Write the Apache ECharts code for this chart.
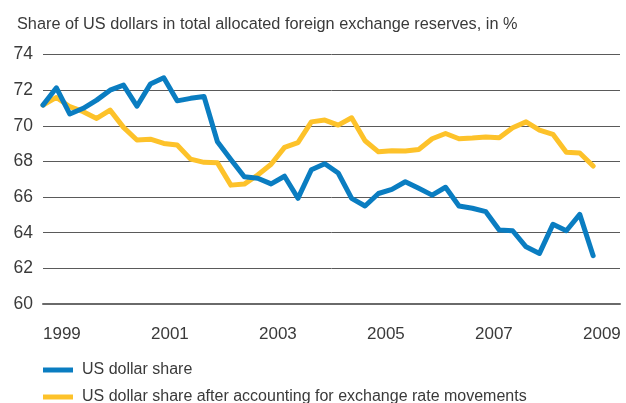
<!DOCTYPE html>
<html>
<head>
<meta charset="utf-8">
<script src="https://cdn.jsdelivr.net/npm/echarts@6/dist/echarts.min.js"></script>
<style>
html, body { margin: 0; padding: 0; background: #fff; }
#chart { width: 626px; height: 403px; }
</style>
</head>
<body>
<div id="chart"></div>
<script>
//---------------------------Data---------------------------
// quarters on the x axis (data runs 1999 Q1 .. 2009 Q2, axis goes a bit past)
let quarters = [];
for (let y = 1999; y <= 2009; y++) {
    for (let q = 1; q <= 4; q++) {
        quarters.push(y + " Q" + q);
    }
}

// US dollar share, %
let usdShare = [
    71.16, 72.13, 70.66, 70.98, 71.44, 72.00, 72.28, 71.10,
    72.34, 72.69, 71.40, 71.54, 71.64, 69.10, 68.11, 67.14,
    67.06, 66.74, 67.17, 65.93, 67.53, 67.87, 67.35, 65.93,
    65.50, 66.20, 66.43, 66.86, 66.49, 66.11, 66.55, 65.50,
    65.37, 65.18, 64.15, 64.11, 63.21, 62.84, 64.47, 64.11,
    65.03, 62.71
];

// US dollar share after accounting for exchange rate movements, %
let usdShareAdj = [
    71.16, 71.59, 71.07, 70.79, 70.41, 70.88, 69.91, 69.20,
    69.25, 69.01, 68.92, 68.13, 67.95, 67.92, 66.67, 66.73,
    67.24, 67.84, 68.79, 69.05, 70.22, 70.32, 70.04, 70.45,
    69.16, 68.54, 68.60, 68.58, 68.67, 69.27, 69.57, 69.27,
    69.31, 69.37, 69.33, 69.89, 70.22, 69.76, 69.52, 68.51,
    68.47, 67.74
];

let seriesNames = [
    "US dollar share",
    "US dollar share after accounting for exchange rate movements"
];

let yearTicks = [1999, 2001, 2003, 2005, 2007, 2009];

//---------------------------Chart---------------------------
let font = "'Liberation Sans', Arial, sans-serif";
let textColor = "#3a3a3a";
let blue = "#0a7dc1";
let yellow = "#fdc22a";

let chart = echarts.init(document.getElementById('chart'));

// one legend box per row, so the rows sit where the reference has them
function legendRow(name, top) {
    return {
        left: 43,
        top: top,
        padding: 0,
        itemWidth: 30,
        itemHeight: 5,
        icon: "rect",
        data: [name],
        textStyle: {
            fontFamily: font,
            fontSize: 16,
            color: textColor,
            padding: [0, 0, 0, 4]
        }
    };
}

let option = {
    animation: false,
    backgroundColor: "#fff",
    title: {
        text: "Share of US dollars in total allocated foreign exchange reserves, in %",
        left: 12,
        top: 12,
        textStyle: {
            fontFamily: font,
            fontSize: 16.3,
            fontWeight: "normal",
            color: textColor
        }
    },
    legend: [
        legendRow(seriesNames[0], 362),
        legendRow(seriesNames[1], 389)
    ],
    grid: {
        left: 43,
        right: 6,
        top: 54.5,
        bottom: 99
    },
    xAxis: [
        {
            type: "category",
            data: quarters,
            boundaryGap: false,
            axisLine: { show: true, lineStyle: { color: "#6a6a6a", width: 2 } },
            axisTick: { show: false },
            axisLabel: { show: false },
            splitLine: { show: false }
        },
        {
            // only used for the year labels
            type: "value",
            position: "bottom",
            min: 1999,
            max: 1999 + (620 - 43) / 54,
            interval: 2,
            axisLine: { show: false },
            axisTick: { show: false },
            splitLine: { show: false },
            axisLabel: {
                margin: 22,
                align: "left",
                fontFamily: font,
                fontSize: 17,
                color: textColor,
                formatter: function (v) {
                    return yearTicks.indexOf(v) >= 0 ? String(v) : "";
                }
            }
        }
    ],
    yAxis: {
        type: "value",
        min: 60,
        max: 74,
        interval: 2,
        axisLine: { show: false },
        axisTick: { show: false },
        axisLabel: {
            margin: 10,
            fontFamily: font,
            fontSize: 17.5,
            color: textColor
        },
        splitLine: { lineStyle: { color: "#5a5a5a", width: 1 } }
    },
    series: [
        {
            name: seriesNames[1],
            type: "line",
            xAxisIndex: 0,
            data: usdShareAdj,
            showSymbol: false,
            color: yellow,
            lineStyle: { width: 5, color: yellow, cap: "round", join: "round" }
        },
        {
            name: seriesNames[0],
            type: "line",
            xAxisIndex: 0,
            data: usdShare,
            showSymbol: false,
            color: blue,
            lineStyle: { width: 5, color: blue, cap: "round", join: "round" }
        }
    ]
};

chart.setOption(option);
</script>
</body>
</html>
